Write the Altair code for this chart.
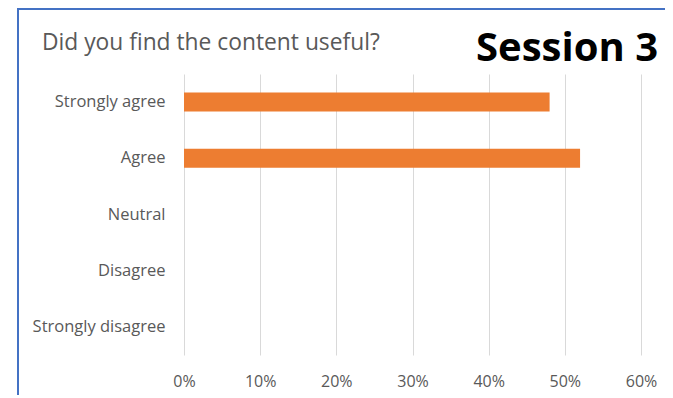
import altair as alt
import pandas as pd

categories = ["Strongly agree", "Agree", "Neutral", "Disagree", "Strongly disagree"]
values = [0.48, 0.52, 0.0, 0.0, 0.0]

title_text = "Did you find the content useful?"
session_text = "Session 3"

df = pd.DataFrame({"answer": categories, "share": values})

FONT = "Open Sans"
GRAY = "#595959"

bars = alt.Chart(df).mark_bar(color="#ED7D31").encode(
    x=alt.X(
        "share:Q",
        scale=alt.Scale(domain=[0, 0.6], nice=False),
        axis=alt.Axis(
            format=".0%",
            values=[0, 0.1, 0.2, 0.3, 0.4, 0.5, 0.6],
            grid=True,
            gridColor="#d9d9d9",
            gridWidth=1,
            domain=False,
            ticks=False,
            labelFlush=False,
            labelPadding=18,
            labelFontSize=16,
            labelColor=GRAY,
            labelFont=FONT,
            title=None,
        ),
    ),
    y=alt.Y(
        "answer:N",
        sort=categories,
        scale=alt.Scale(paddingInner=0.662, paddingOuter=0.331),
        axis=alt.Axis(
            domain=False,
            ticks=False,
            grid=False,
            labelPadding=19,
            labelFontSize=16.5,
            labelColor=GRAY,
            labelFont=FONT,
            title=None,
        ),
    ),
)

title_df = pd.DataFrame({"t": [title_text]})
title = alt.Chart(title_df).mark_text(
    align="left", baseline="alphabetic", fontSize=22.8, font=FONT, color=GRAY
).encode(text="t:N", x=alt.value(-142), y=alt.value(-24))

session_df = pd.DataFrame({"t": [session_text]})
session = alt.Chart(session_df).mark_text(
    align="right", baseline="alphabetic", fontSize=40, font=FONT, fontWeight="bold", color="#000000"
).encode(text="t:N", x=alt.value(474), y=alt.value(-13))

border_left = alt.Chart(title_df).mark_rule(color="#4472C4", strokeWidth=2).encode(
    x=alt.value(-166), y=alt.value(-66), y2=alt.value(330)
)
border_top = alt.Chart(title_df).mark_rule(color="#4472C4", strokeWidth=2).encode(
    x=alt.value(-167), x2=alt.value(495), y=alt.value(-65)
)

chart = alt.layer(bars, title, session, border_left, border_top).properties(
    width=457,
    height=281,
    padding={"left": 176, "top": 66, "right": 24, "bottom": 40},
    autosize=alt.AutoSizeParams(type="none"),
).configure_view(stroke=None)

chart.save("out.html", embed_options={"renderer": "svg", "actions": False})
